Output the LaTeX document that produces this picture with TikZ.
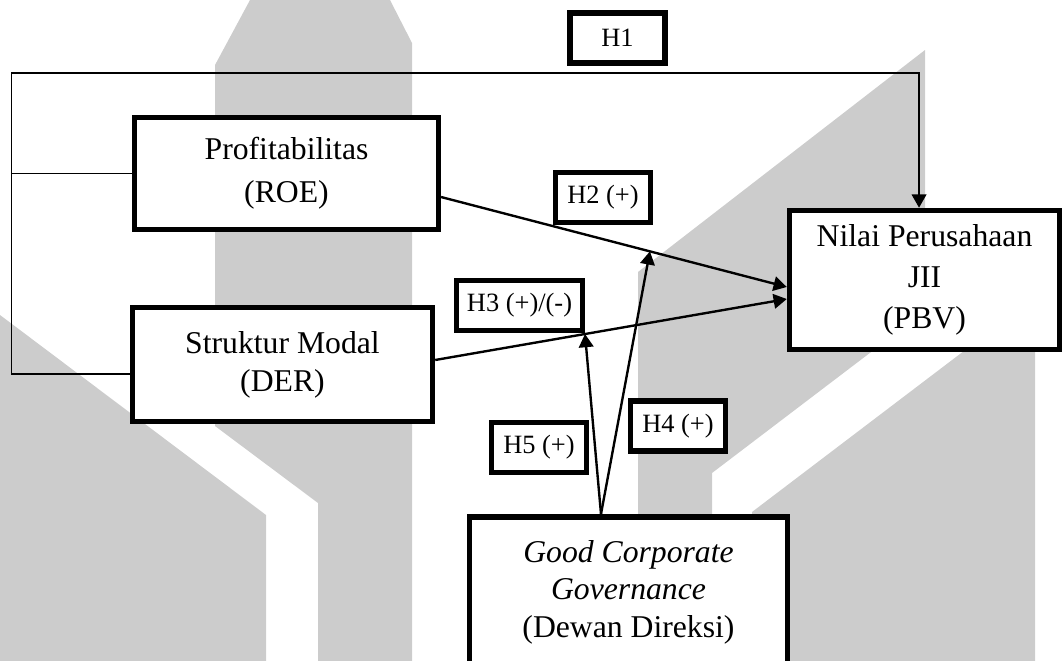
\documentclass[tikz,border=0pt]{standalone}
\usepackage{fontspec}
\setmainfont{Liberation Serif}
\usetikzlibrary{arrows.meta}

\definecolor{wmgray}{HTML}{CCCCCC}

\newcommand*{\picw}{1062}
\newcommand*{\pich}{661}

\begin{document}
\begin{tikzpicture}[x=0.0133cm,y=-0.0133cm,
	varbox/.style={draw,line width=2.1pt,fill=white,align=center,inner sep=0pt,font=\fontsize{12}{15.5}\selectfont},
	hypbox/.style={draw,line width=2.1pt,fill=white,inner xsep=4pt,minimum width=1.26cm,minimum height=0.66cm,font=\fontsize{10}{12}\selectfont},
	link/.style={line width=0.7pt},
	conn/.style={line width=0.9pt},
	arr/.style={-{Triangle[length=5pt,width=5.5pt]}}]

	\useasboundingbox (0,0) rectangle (\picw,\pich);

	% watermark
	\fill[wmgray] (215,65) -- (250,0) -- (390,0) -- (412,43) -- (412,661) -- (318,661) -- (318,503) -- (215,426) -- cycle;
	\fill[wmgray] (0,315) -- (266,515) -- (266,661) -- (0,661) -- cycle;
	\fill[wmgray] (638,661) -- (638,272) -- (925,50) -- (925,311) -- (712,473) -- (712,661) -- cycle;
	\fill[wmgray] (752,661) -- (752,512) -- (1035,297) -- (1035,661) -- cycle;

	% variables
	\node[varbox,minimum width=4.04cm,minimum height=1.49cm,font=\fontsize{12}{16.3}\selectfont] (roe) at (286.5,173.5) {Profitabilitas\\(ROE)};
	\node[varbox,minimum width=3.99cm,minimum height=1.52cm,font=\fontsize{12}{14.4}\selectfont] (der) at (282.5,364.5) {Struktur Modal\\(DER)};
	\node[varbox,minimum width=3.59cm,minimum height=1.85cm] (nilai) at (924.5,280) {Nilai Perusahaan\\JII\\(PBV)};
	\node[varbox,minimum width=4.23cm,minimum height=2.66cm,anchor=north] (gcg) at (628.5,514) {};
	\node[align=center,font=\fontsize{12}{14.2}\selectfont] (gcgtext) at (628.5,592) {\textit{Good Corporate}\\\textit{Governance}\\(Dewan Direksi)};

	% H1 bracket
	\coordinate (corner) at (11.5,73);
	\draw[link] (roe.west) -- (roe.west -| corner);
	\draw[link,arr] ([yshift=-0.126cm]der.west) -| (corner) -| ([xshift=-0.073cm]nilai.north);

	% direct and moderated paths
	\draw[conn,arr] ([yshift=-0.313cm]roe.east) -- coordinate[pos=0.604] (h4tip) ([yshift=-0.093cm]nilai.west);
	\draw[conn,arr] ([yshift=0.06cm]der.east) -- coordinate[pos=0.426] (h5tip) ([yshift=-0.253cm]nilai.west);
	\draw[conn,arr] ([xshift=-0.366cm]gcg.north) -- (h4tip);
	\draw[conn,arr] ([xshift=-0.366cm]gcg.north) -- (h5tip);

	% hypotheses
	\node[hypbox] (h1) at (617.5,38) {H1};
	\node[hypbox] (h2) at (603,197.5) {H2 (+)};
	\node[hypbox] (h3) at (519.5,305.5) {H3 (+)/(-)};
	\node[hypbox] (h4) at (678,426) {H4 (+)};
	\node[hypbox] (h5) at (539,447.5) {H5 (+)};

\end{tikzpicture}
\end{document}
